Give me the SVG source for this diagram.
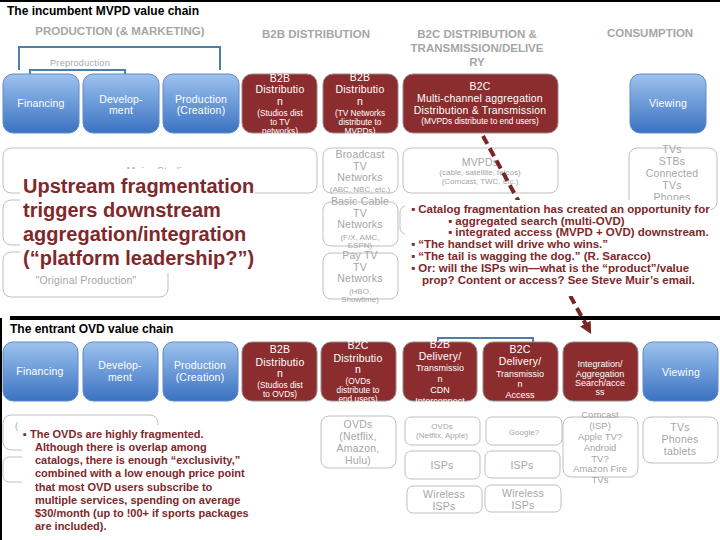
<svg xmlns="http://www.w3.org/2000/svg" width="720" height="540" viewBox="0 0 720 540">
<defs>
<linearGradient id="blue" x1="0" y1="0" x2="0" y2="1">
<stop offset="0" stop-color="#9dc2ee"/>
<stop offset="1" stop-color="#3a72c2"/>
</linearGradient>
<marker id="ah" viewBox="0 0 10 10" refX="8" refY="5" markerWidth="3" markerHeight="3" orient="auto">
<path d="M0,0 L10,5 L0,10 z" fill="#7a2424"/>
</marker>
<style>
text{font-family:"Liberation Sans",Arial,sans-serif}
.title{font-size:12px;font-weight:bold;fill:#000}
.hdr{font-size:11.5px;font-weight:bold;fill:#a6a6a6;text-anchor:middle}
.bb{fill:url(#blue);stroke:#5f8cc4;stroke-width:1}
.rb{fill:#8b2d2e;stroke:#9a8a8a;stroke-width:1}
.gb{fill:none;stroke:#bfbfbf;stroke-width:1}
.wt{fill:#fff;font-size:10.5px;text-anchor:middle;letter-spacing:0.2px}
.ws{fill:#fff;font-size:8.3px;text-anchor:middle}
.wx{fill:#fff;font-size:9px;text-anchor:middle}
.gt{fill:#a6a6a6;font-size:10.5px;text-anchor:middle;letter-spacing:0.2px}
.gs{fill:#a6a6a6;font-size:8px;text-anchor:middle}
.gm{fill:#a6a6a6;font-size:9.5px;text-anchor:middle}
.br{fill:none;stroke:#4d7fa8;stroke-width:2}
.big{fill:#80282a;font-size:20px;font-weight:bold}
.bul{fill:#80282a;font-size:11.5px;font-weight:bold}
.bul2{fill:#80282a;font-size:11px;font-weight:bold}
.bk{fill:#fff;stroke:none}
</style>
</defs>
<rect x="0" y="0" width="720" height="540" fill="#fff"/>
<rect x="0" y="0" width="720" height="2" fill="#000"/>
<rect x="10" y="316" width="710" height="4" fill="#000"/>
<rect x="0" y="318" width="2" height="222" fill="#000"/>

<text class="title" x="7" y="15">The incumbent MVPD value chain</text>
<text class="title" x="10" y="333">The entrant OVD value chain</text>

<g id="headers">
<text class="hdr" x="120" y="35">PRODUCTION (&amp; MARKETING)</text>
<text class="hdr" x="316" y="38">B2B DISTRIBUTION</text>
<text class="hdr" x="477" y="38">B2C DISTRIBUTION &amp;</text>
<text class="hdr" x="477" y="52">TRANSMISSION/DELIVE</text>
<text class="hdr" x="477" y="66">RY</text>
<text class="hdr" x="650" y="37">CONSUMPTION</text>
</g>

<g id="connectors">
<path class="br" d="M19,70 V47 H220 V70"/>
<path class="br" d="M30,74 V70 H125 V74"/>
<path class="br" d="M438,343 V338 H533 V343"/>
</g>
<text x="80" y="66" fill="#a6a6a6" font-size="9" text-anchor="middle" letter-spacing="0.3">Preproduction</text>

<!-- top row -->
<g id="t-financing"><rect class="bb" x="3" y="74" width="76" height="59" rx="10"/><text class="wt" x="41" y="107">Financing</text></g>
<g id="t-development"><rect class="bb" x="83" y="74" width="76" height="59" rx="10"/><text class="wt" x="121" y="103">Develop-</text><text class="wt" x="121" y="114">ment</text></g>
<g id="t-production"><rect class="bb" x="163" y="74" width="76" height="59" rx="10"/><text class="wt" x="201" y="103">Production</text><text class="wt" x="201" y="114">(Creation)</text></g>
<g id="t-b2b1"><rect class="rb" x="242" y="74" width="75" height="59" rx="10"/>
<text class="wt" x="280" y="82">B2B</text><text class="wt" x="280" y="93">Distributio</text><text class="wt" x="280" y="104.5">n</text>
<text class="ws" x="280" y="116">(Studios dist</text><text class="ws" x="280" y="124.5">to TV</text><text class="ws" x="280" y="134">networks)</text></g>
<g id="t-b2b2"><rect class="rb" x="323" y="74" width="75" height="59" rx="10"/>
<text class="wt" x="360" y="81">B2B</text><text class="wt" x="360" y="93">Distributio</text><text class="wt" x="360" y="104.5">n</text>
<text class="ws" x="360" y="116">(TV Networks</text><text class="ws" x="360" y="124.5">distribute to</text><text class="ws" x="360" y="133.5">MVPDs)</text></g>
<g id="t-b2c"><rect class="rb" x="403" y="74" width="155" height="59" rx="10"/>
<text class="wt" x="480" y="90">B2C</text><text class="wt" x="480" y="102">Multi-channel aggregation</text><text class="wt" x="480" y="114">Distribution &amp; Transmission</text>
<text class="ws" x="480" y="124">(MVPDs distribute to end users)</text></g>
<g id="t-viewing"><rect class="bb" x="630" y="74" width="76" height="59" rx="10"/><text class="wt" x="668" y="107" font-size="11">Viewing</text></g>

<!-- top gray boxes -->
<g id="g-major"><rect class="gb" x="3" y="148" width="314" height="45" rx="8"/><text class="gt" x="160" y="175">Major Studios</text></g>
<g id="g-box2"><rect class="gb" x="3" y="200" width="240" height="45" rx="8"/></g>
<g id="g-orig"><rect class="gb" x="3" y="252" width="165" height="45" rx="8"/><text class="gt" x="86" y="284">"Original Production"</text></g>
<g id="g-broadcast"><rect class="gb" x="323" y="148" width="75" height="45" rx="8"/>
<text class="gt" x="360" y="158">Broadcast</text><text class="gt" x="360" y="170">TV</text><text class="gt" x="360" y="181">Networks</text><text class="gs" x="360" y="192">(ABC, NBC, etc.)</text></g>
<g id="g-basic"><rect class="gb" x="323" y="202" width="75" height="44" rx="8"/>
<text class="gt" x="360" y="205">Basic Cable</text><text class="gt" x="360" y="217">TV</text><text class="gt" x="360" y="228">Networks</text><text class="gs" x="360" y="239.5" font-size="9">(F/X, AMC,</text><text class="gs" x="360" y="248" font-size="9">ESPN)</text></g>
<g id="g-pay"><rect class="gb" x="323" y="253" width="75" height="46" rx="8"/>
<text class="gt" x="360" y="259">Pay TV</text><text class="gt" x="360" y="270.5">TV</text><text class="gt" x="360" y="282">Networks</text><text class="gs" x="360" y="293.5" font-size="9">(HBO,</text><text class="gs" x="360" y="302" font-size="9">Showtime)</text></g>
<g id="g-mvpds"><rect class="gb" x="403" y="148" width="155" height="45" rx="8"/>
<text class="gt" x="480" y="166" font-size="11">MVPDs</text><text class="gs" x="480" y="175">(cable, satellite, telcos)</text><text class="gs" x="480" y="184">(Comcast, TWC, etc.)</text></g>
<g id="g-hidden"><rect class="gb" x="400" y="206" width="150" height="28" rx="6"/></g>
<g id="g-tvs"><rect class="gb" x="629" y="148" width="88" height="62" rx="8"/>
<text class="gt" x="672" y="153">TVs</text><text class="gt" x="672" y="165">STBs</text><text class="gt" x="672" y="177">Connected</text><text class="gt" x="672" y="189">TVs</text><text class="gt" x="672" y="201">Phones</text></g>

<!-- bottom row -->
<g id="b-financing"><rect class="bb" x="3" y="342" width="75" height="59" rx="10"/><text class="wt" x="40" y="375">Financing</text></g>
<g id="b-development"><rect class="bb" x="83" y="342" width="75" height="59" rx="10"/><text class="wt" x="120" y="369">Develop-</text><text class="wt" x="120" y="381">ment</text></g>
<g id="b-production"><rect class="bb" x="163" y="342" width="75" height="59" rx="10"/><text class="wt" x="200" y="369">Production</text><text class="wt" x="200" y="381">(Creation)</text></g>
<g id="b-b2b"><rect class="rb" x="242" y="342" width="75" height="59" rx="10"/>
<text class="wt" x="280" y="353">B2B</text><text class="wt" x="280" y="366">Distributio</text><text class="wt" x="280" y="377">n</text>
<text class="ws" x="280" y="388">(Studios dist</text><text class="ws" x="280" y="397">to OVDs)</text></g>
<g id="b-b2c"><rect class="rb" x="321" y="342" width="75" height="59" rx="10"/>
<text class="wt" x="358" y="349">B2C</text><text class="wt" x="358" y="362">Distributio</text><text class="wt" x="358" y="373">n</text>
<text class="ws" x="358" y="384">(OVDs</text><text class="ws" x="358" y="393">distribute to</text><text class="ws" x="358" y="402">end users)</text></g>
<g id="b-b2bdel"><rect class="rb" x="403" y="342" width="74" height="59" rx="10"/>
<text class="wt" x="440" y="348">B2B</text><text class="wt" x="440" y="360">Delivery/</text><text class="wx" x="440" y="371">Transmissio</text><text class="wx" x="440" y="382">n</text><text class="wx" x="440" y="393">CDN</text><text class="wx" x="440" y="404">Interconnect</text></g>
<g id="b-b2cdel"><rect class="rb" x="483" y="342" width="75" height="59" rx="10"/>
<text class="wt" x="520" y="353">B2C</text><text class="wt" x="520" y="365">Delivery/</text><text class="wx" x="520" y="377">Transmissio</text><text class="wx" x="520" y="387">n</text><text class="wx" x="520" y="398">Access</text></g>
<g id="b-integ"><rect class="rb" x="563" y="342" width="75" height="59" rx="10"/>
<text class="wx" x="600" y="367">Integration/</text><text class="wx" x="600" y="377">Aggregation</text><text class="wx" x="600" y="386">Search/acce</text><text class="wx" x="600" y="395">ss</text></g>
<g id="b-viewing"><rect class="bb" x="643" y="342" width="75" height="59" rx="10"/><text class="wt" x="681" y="376" font-size="11">Viewing</text></g>

<!-- bottom gray boxes -->
<g id="bg-1"><rect class="gb" x="3" y="415" width="155" height="35" rx="8"/><text x="15" y="429" fill="#a6a6a6" font-size="9">(</text></g>
<g id="bg-2"><rect class="gb" x="3" y="457" width="150" height="25" rx="6"/></g>
<g id="bg-ovds"><rect class="gb" x="321" y="416" width="75" height="52" rx="8"/>
<text class="gt" x="358" y="428">OVDs</text><text class="gt" x="358" y="440">(Netflix,</text><text class="gt" x="358" y="452">Amazon,</text><text class="gt" x="358" y="464">Hulu)</text></g>
<g id="bg-ovds2"><rect class="gb" x="405" y="417" width="75" height="28" rx="6"/>
<text class="gs" x="442" y="429">OVDs</text><text class="gs" x="442" y="438">(Netflix, Apple)</text></g>
<g id="bg-isp1"><rect class="gb" x="405" y="451" width="75" height="28" rx="6"/><text class="gt" x="442" y="469">ISPs</text></g>
<g id="bg-wisp1"><rect class="gb" x="407" y="486" width="75" height="27" rx="6"/><text class="gt" x="444" y="498">Wireless</text><text class="gt" x="444" y="510">ISPs</text></g>
<g id="bg-google"><rect class="gb" x="486" y="417" width="76" height="28" rx="6"/><text class="gs" x="524" y="435" font-size="8.5">Google?</text></g>
<g id="bg-isp2"><rect class="gb" x="485" y="451" width="75" height="27" rx="6"/><text class="gt" x="522" y="469">ISPs</text></g>
<g id="bg-wisp2"><rect class="gb" x="485" y="485" width="76" height="27" rx="6"/><text class="gt" x="523" y="497">Wireless</text><text class="gt" x="523" y="509">ISPs</text></g>
<g id="bg-comcast"><rect class="gb" x="563" y="417" width="75" height="60" rx="8"/>
<text class="gm" x="600" y="418">Comcast</text><text class="gm" x="600" y="429">(ISP)</text><text class="gm" x="600" y="440">Apple TV?</text><text class="gm" x="600" y="451">Android</text><text class="gm" x="600" y="462">TV?</text><text class="gm" x="600" y="472">Amazon Fire</text><text class="gm" x="600" y="483">TVs</text></g>
<g id="bg-tvs"><rect class="gb" x="643" y="417" width="75" height="46" rx="8"/>
<text class="gt" x="680" y="431">TVs</text><text class="gt" x="680" y="443">Phones</text><text class="gt" x="680" y="455">tablets</text></g>

<g id="arrow">
<line x1="483" y1="136" x2="590" y2="332" stroke="#7a2424" stroke-width="4" stroke-dasharray="9,5" marker-end="url(#ah)"/>
</g>

<!-- callouts -->
<g id="callout-upstream">
<rect class="bk" x="20" y="169" width="235" height="104"/>
<text class="big" x="23" y="193">Upstream fragmentation</text>
<text class="big" x="23" y="217">triggers downstream</text>
<text class="big" x="23" y="241">aggregation/integration</text>
<text class="big" x="23" y="265">(“platform leadership?”)</text>
</g>
<g id="callout-catalog">
<rect class="bk" x="405" y="200" width="306" height="96"/>
<text class="bul" x="411" y="213">▪ Catalog fragmentation has created an opportunity for</text>
<text class="bul" x="448" y="224.5">▪ aggregated search (multi-OVD)</text>
<text class="bul" x="448" y="236">▪ integrated access (MVPD + OVD) downstream.</text>
<text class="bul" x="411" y="248">▪ “The handset will drive who wins.”</text>
<text class="bul" x="411" y="260">▪ “The tail is wagging the dog.” (R. Saracco)</text>
<text class="bul" x="411" y="272">▪ Or: will the ISPs win—what is the “product”/value</text>
<text class="bul" x="422" y="284">prop? Content or access? See Steve Muir’s email.</text>
</g>
<g id="callout-ovd">
<rect class="bk" x="22" y="425" width="232" height="112"/>
<text class="bul2" x="23" y="438">▪ The OVDs are highly fragmented.</text>
<text class="bul2" x="35" y="451">Although there is overlap among</text>
<text class="bul2" x="35" y="464">catalogs, there is enough “exclusivity,”</text>
<text class="bul2" x="35" y="477">combined with a low enough price point</text>
<text class="bul2" x="35" y="491">that most OVD users subscribe to</text>
<text class="bul2" x="35" y="504">multiple services, spending on average</text>
<text class="bul2" x="35" y="517">$30/month (up to !00+ if sports packages</text>
<text class="bul2" x="35" y="530">are included).</text>
</g>
</svg>
